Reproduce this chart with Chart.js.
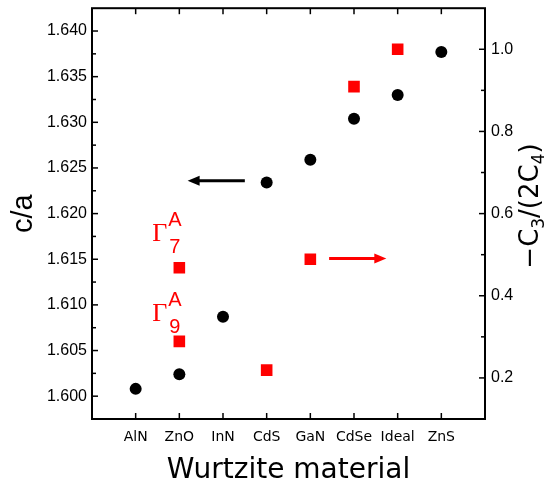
<!DOCTYPE html>
<html>
<head>
<meta charset="utf-8">
<script src="https://cdn.jsdelivr.net/npm/chart.js@4.4.1/dist/chart.umd.min.js"></script>
<style>
  html, body { margin: 0; padding: 0; background: #fff; }
  #wrap { width: 550px; height: 490px; }
</style>
</head>
<body>
<div id="wrap"><canvas id="chart" width="550" height="490"></canvas></div>
<script>
// Categorías (eje x)
const materials = ['AlN', 'ZnO', 'InN', 'CdS', 'GaN', 'CdSe', 'Ideal', 'ZnS'];

// c/a -> eje izquierdo (círculos negros)
const caValues = [1.6008, 1.6024, 1.6087, 1.6234, 1.6259, 1.6304, 1.6330, 1.6377];

// -C3/(2C4) -> eje derecho (cuadrados rojos); ZnO tiene dos: Γ7 y Γ9
const ratioMaterials = ['ZnO', 'ZnO', 'CdS', 'GaN', 'CdSe', 'Ideal'];
const ratioValues = [0.468, 0.289, 0.219, 0.489, 0.909, 1.000];

// Etiquetas de los ejes
const caTicks = [1.600, 1.605, 1.610, 1.615, 1.620, 1.625, 1.630, 1.635, 1.640];
const ratioTicks = [0.2, 0.4, 0.6, 0.8, 1.0];

const RED = '#ff0000';

function line(ctx, x0, y0, x1, y1) {
    ctx.beginPath();
    ctx.moveTo(x0, y0);
    ctx.lineTo(x1, y1);
    ctx.stroke();
}

function arrow(ctx, x0, y0, x1, y1, color) {
    const dir = Math.sign(x1 - x0);
    ctx.strokeStyle = color;
    ctx.fillStyle = color;
    ctx.lineWidth = 3;
    line(ctx, x0, y0, x1 - dir * 10, y1);
    ctx.beginPath();
    ctx.moveTo(x1, y1);
    ctx.lineTo(x1 - dir * 12, y1 - 5);
    ctx.lineTo(x1 - dir * 12, y1 + 5);
    ctx.closePath();
    ctx.fill();
}

// Marco, marcas interiores, títulos, flechas y etiquetas Γ
const decorations = {
    id: 'decorations',
    afterDraw(chart) {
        const { ctx, chartArea: a, scales } = chart;
        const sx = scales.x, sy = scales.y, sy1 = scales.y1;
        ctx.save();

        // marco
        ctx.strokeStyle = '#000';
        ctx.lineWidth = 2;
        ctx.strokeRect(a.left, a.top, a.right - a.left, a.bottom - a.top);

        // marcas hacia dentro
        ctx.lineWidth = 1.5;
        materials.forEach((m, i) => {
            const px = sx.getPixelForValue(i + 1);
            line(ctx, px, a.bottom, px, a.bottom - 6);
            line(ctx, px, a.top, px, a.top + 6);
        });
        caTicks.forEach((v, i) => {
            const py = sy.getPixelForValue(v);
            line(ctx, a.left, py, a.left + 6, py);
            if (i < caTicks.length - 1) {
                const pm = sy.getPixelForValue((v + caTicks[i + 1]) / 2);
                line(ctx, a.left, pm, a.left + 4, pm);
            }
        });
        ratioTicks.forEach((v, i) => {
            const py = sy1.getPixelForValue(v);
            line(ctx, a.right, py, a.right - 6, py);
            if (i < ratioTicks.length - 1) {
                const pm = sy1.getPixelForValue((v + ratioTicks[i + 1]) / 2);
                line(ctx, a.right, pm, a.right - 4, pm);
            }
        });

        // título eje izquierdo
        ctx.fillStyle = '#000';
        ctx.save();
        ctx.translate(24, (a.top + a.bottom) / 2);
        ctx.rotate(-Math.PI / 2);
        ctx.textAlign = 'center';
        ctx.textBaseline = 'middle';
        ctx.font = '29px "Liberation Sans"';
        ctx.fillText('c/a', 0, 0);
        ctx.restore();

        // título eje derecho: −C3/(2C4)
        const big = '26px "DejaVu Sans"', small = '17px "DejaVu Sans"';
        const parts = [['\u2212C', big, 0], ['3', small, 6], ['/(2C', big, 0], ['4', small, 6], [')', big, 0]];
        let total = 0;
        parts.forEach(p => { ctx.font = p[1]; total += ctx.measureText(p[0]).width; });
        ctx.save();
        ctx.translate(538, 206);
        ctx.rotate(-Math.PI / 2);
        ctx.textAlign = 'left';
        ctx.textBaseline = 'alphabetic';
        let cx = -total / 2;
        parts.forEach(p => {
            ctx.font = p[1];
            ctx.fillText(p[0], cx, p[2]);
            cx += ctx.measureText(p[0]).width;
        });
        ctx.restore();

        // título eje x
        ctx.font = '28px "DejaVu Sans"';
        ctx.textAlign = 'center';
        ctx.textBaseline = 'alphabetic';
        ctx.fillText('Wurtzite material', (a.left + a.right) / 2, 478);

        // flechas
        arrow(ctx, sx.getPixelForValue(3.5), sy.getPixelForValue(1.6236),
              sx.getPixelForValue(2.19), sy.getPixelForValue(1.6236), '#000');
        arrow(ctx, sx.getPixelForValue(5.43), sy1.getPixelForValue(0.491),
              sx.getPixelForValue(6.74), sy1.getPixelForValue(0.491), RED);

        // etiquetas Γ7A y Γ9A
        const zx = sx.getPixelForValue(materials.indexOf('ZnO') + 1);
        [['7', 0.533], ['9', 0.339]].forEach(([sub, v]) => {
            const by = sy1.getPixelForValue(v);
            ctx.fillStyle = RED;
            ctx.textAlign = 'left';
            ctx.font = '26px "Liberation Serif"';
            ctx.fillText('\u0393', zx - 27, by);
            ctx.font = '20px "Liberation Sans"';
            ctx.fillText('A', zx - 11, by - 15);
            ctx.fillText(sub, zx - 10, by + 12);
        });

        ctx.restore();
    }
};

const caPoints = caValues.map((v, i) => ({ x: i + 1, y: v }));
const ratioPoints = ratioValues.map((v, i) => ({ x: materials.indexOf(ratioMaterials[i]) + 1, y: v }));

// sin relleno automático para las etiquetas en los extremos
const noPad = s => { s.paddingTop = 0; s.paddingBottom = 0; s.paddingLeft = 0; s.paddingRight = 0; };

new Chart(document.getElementById('chart'), {
    type: 'scatter',
    data: {
        datasets: [{
            label: 'c/a',
            data: caPoints,
            yAxisID: 'y',
            pointStyle: 'circle',
            pointRadius: 6,
            backgroundColor: '#000',
            borderWidth: 0
        }, {
            label: '-C3/(2C4)',
            data: ratioPoints,
            yAxisID: 'y1',
            pointStyle: 'rect',
            pointRadius: 8.2,
            backgroundColor: RED,
            borderWidth: 0
        }]
    },
    options: {
        responsive: false,
        animation: false,
        layout: { padding: { top: 3, left: 0, right: 0, bottom: 0 } },
        plugins: { legend: { display: false }, tooltip: { enabled: false } },
        scales: {
            x: {
                type: 'linear',
                min: 0,
                max: 9,
                grid: { display: false, drawTicks: false },
                border: { display: false },
                afterBuildTicks: s => { s.ticks = materials.map((m, i) => ({ value: i + 1 })); },
                afterFit: s => { s.height = 71; noPad(s); },
                ticks: {
                    autoSkip: false,
                    maxRotation: 0,
                    padding: 10,
                    color: '#000',
                    font: { family: 'DejaVu Sans', size: 14 },
                    callback: v => materials[v - 1]
                }
            },
            y: {
                position: 'left',
                min: 1.5975,
                max: 1.6425,
                grid: { display: false, drawTicks: false },
                border: { display: false },
                afterBuildTicks: s => { s.ticks = caTicks.map(v => ({ value: v })); },
                afterFit: s => { s.width = 92; noPad(s); },
                ticks: {
                    padding: 5,
                    color: '#000',
                    font: { family: 'Liberation Sans', size: 16 },
                    callback: v => v.toFixed(3)
                }
            },
            y1: {
                position: 'right',
                min: 0.1,
                max: 1.1,
                grid: { display: false, drawTicks: false },
                border: { display: false },
                afterBuildTicks: s => { s.ticks = ratioTicks.map(v => ({ value: v })); },
                afterFit: s => { s.width = 65; noPad(s); },
                ticks: {
                    padding: 6,
                    color: '#000',
                    font: { family: 'Liberation Sans', size: 16 },
                    callback: v => v.toFixed(1)
                }
            }
        }
    },
    plugins: [decorations]
});
</script>
</body>
</html>
